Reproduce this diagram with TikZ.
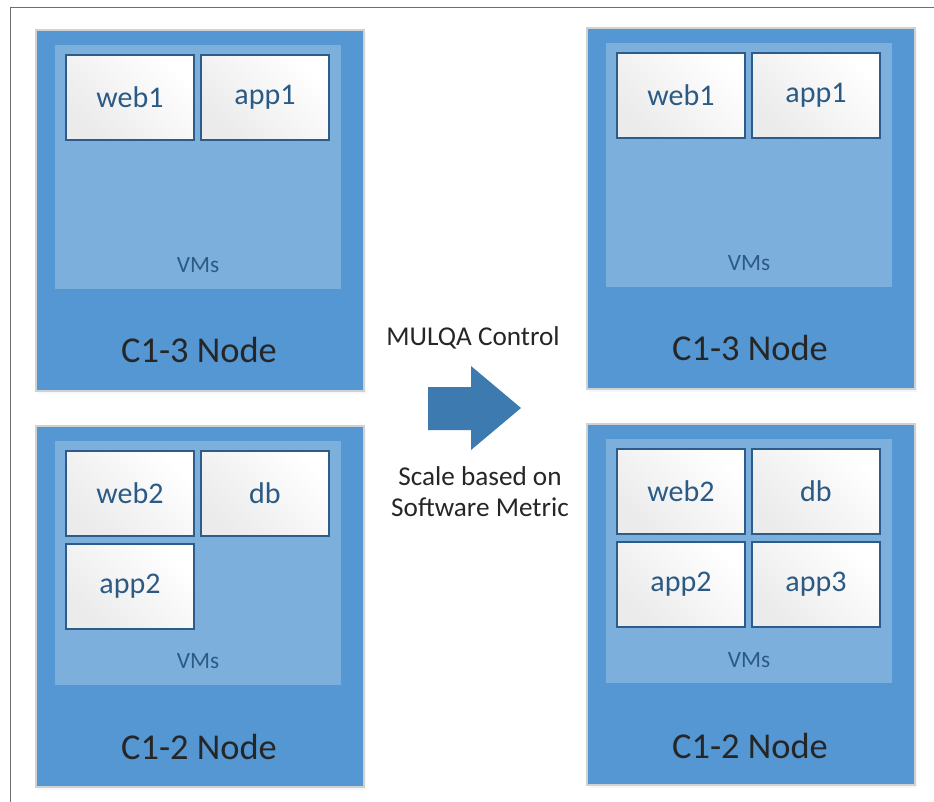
\documentclass[tikz,border=0pt]{standalone}
\usepackage{fontspec}
\setmainfont{Carlito}
\usetikzlibrary{shadows}
\definecolor{hostblue}{HTML}{5497D3}
\definecolor{vmblue}{HTML}{7DAFDD}
\definecolor{vmedge}{HTML}{2C5D8A}
\definecolor{vmtext}{HTML}{2B5A85}
\definecolor{arrowblue}{HTML}{3D7AB0}
\definecolor{darktext}{HTML}{262626}
\definecolor{framegray}{HTML}{6E6E6E}
\tikzset{
  hostbox/.style={rectangle, anchor=north west, inner sep=0pt, fill=hostblue, draw=black!18, line width=1.2pt,
    minimum width=246pt, minimum height=271pt,
    drop shadow={opacity=0.10, shadow xshift=2pt, shadow yshift=-2pt, fill=hostblue!60!white}},
  vmarea/.style={rectangle, anchor=north west, inner sep=0pt, fill=vmblue, draw=none,
    minimum width=214.5pt, minimum height=183pt},
  vmbox/.style={rectangle, anchor=north west, inner sep=0pt, draw=vmedge, line width=1.4pt,
    left color=black!8, right color=white, shading angle=135,
    minimum width=96pt, minimum height=64pt, font=\fontsize{22.5}{26}\selectfont, text=vmtext},
  vmlabel/.style={font=\fontsize{17.5}{20}\selectfont, text=vmtext},
  hostlabel/.style={font=\fontsize{27.3}{32}\selectfont, text=darktext},
  midlabel/.style={font=\fontsize{20.4}{23.3}\selectfont, text=darktext, align=center},
}
\begin{document}
\begin{tikzpicture}[x=0.75pt, y=-0.75pt]
\useasboundingbox (0,0) rectangle (934,802);
\fill[white] (0,0) rectangle (934,802);
\draw[framegray, line width=1.1pt] (10.5,802) -- (10.5,7.5) -- (934,7.5);

% left top host
\node[hostbox] (h1) at (35,29) {};
\node[vmarea] (v1) at (55,45) {};
\node[vmbox] (l1web1) at (65,54) {web1};
\node[vmbox] (l1app1) at (200,54) {app1};
\node[vmlabel] (l1vms) at (198,265) {VMs};
\node[hostlabel] (l1name) at (199,350) {C1-3 Node};

% left bottom host
\node[hostbox] (h2) at (35,425) {};
\node[vmarea] (v2) at (55,441) {};
\node[vmbox] (l2web2) at (65,450) {web2};
\node[vmbox] (l2db) at (200,450) {db};
\node[vmbox] (l2app2) at (65,543) {app2};
\node[vmlabel] (l2vms) at (198,661) {VMs};
\node[hostlabel] (l2name) at (199,747) {C1-2 Node};

% right top host
\node[hostbox] (h3) at (586,27) {};
\node[vmarea] (v3) at (606,43) {};
\node[vmbox] (r1web1) at (616,52) {web1};
\node[vmbox] (r1app1) at (751,52) {app1};
\node[vmlabel] (r1vms) at (749,263) {VMs};
\node[hostlabel] (r1name) at (750,348) {C1-3 Node};

% right bottom host
\node[hostbox] (h4) at (586,423) {};
\node[vmarea] (v4) at (606,439) {};
\node[vmbox] (r2web2) at (616,448) {web2};
\node[vmbox] (r2db) at (751,448) {db};
\node[vmbox] (r2app2) at (616,541) {app2};
\node[vmbox] (r2app3) at (751,541) {app3};
\node[vmlabel] (r2vms) at (749,660) {VMs};
\node[hostlabel] (r2name) at (750,746) {C1-2 Node};

% arrow and labels
\fill[arrowblue] (428,387) -- (471,387) -- (471,366) -- (521,408) -- (471,450) -- (471,430) -- (428,430) -- cycle;
\node[midlabel] (ctrl) at (473,338) {MULQA Control};
\node[midlabel] (scale) at (480,492) {Scale based on\\Software Metric};
\end{tikzpicture}
\end{document}
